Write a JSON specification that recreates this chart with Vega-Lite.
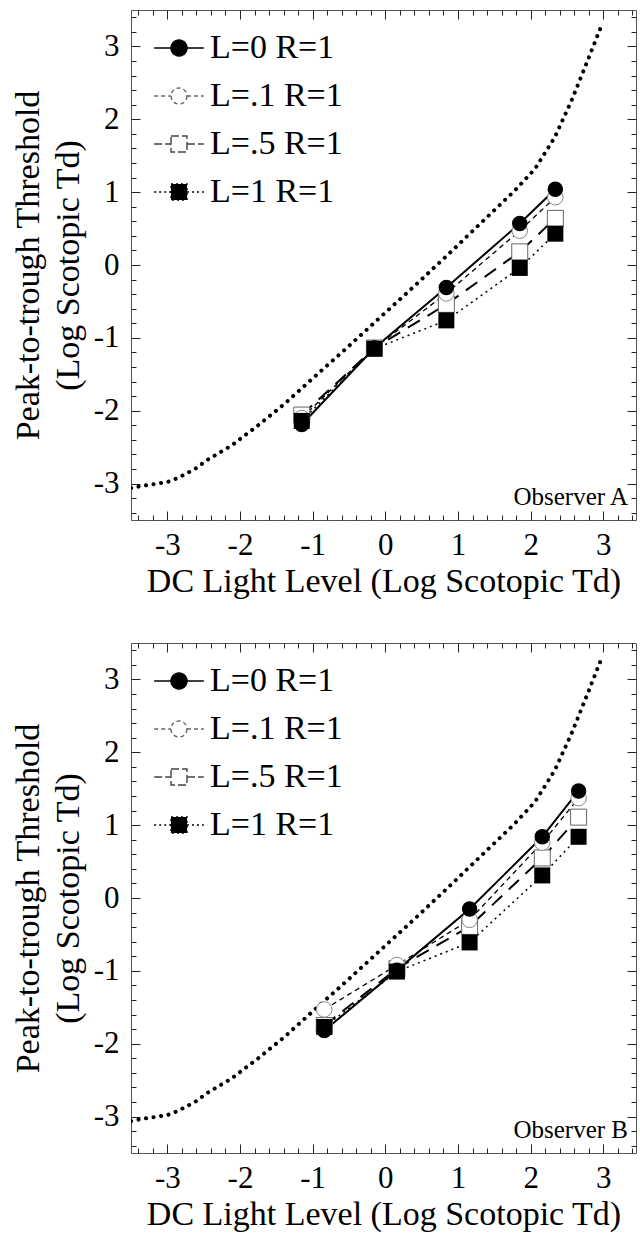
{
  "$schema": "https://vega.github.io/schema/vega-lite/v6.json",
  "background": "white",
  "padding": {"left": 10, "top": 0, "right": 3, "bottom": 0},
  "spacing": 34,
  "config": {"view": {"stroke": "#555", "strokeWidth": 1}, "font": "Liberation Serif"},
  "datasets": {
    "curve": [
      {"x": -3.5, "y": -3.06}, {"x": -3.27, "y": -3.02}, {"x": -3.0, "y": -2.98}, {"x": -2.85, "y": -2.92},
      {"x": -2.62, "y": -2.8}, {"x": -2.44, "y": -2.67}, {"x": -2.12, "y": -2.48}, {"x": -1.75, "y": -2.2},
      {"x": -1.38, "y": -1.9}, {"x": -0.97, "y": -1.53}, {"x": -0.51, "y": -1.12}, {"x": -0.05, "y": -0.7},
      {"x": 0.41, "y": -0.28}, {"x": 0.87, "y": 0.15}, {"x": 1.32, "y": 0.58}, {"x": 1.78, "y": 1.02},
      {"x": 2.06, "y": 1.32}, {"x": 2.33, "y": 1.75}, {"x": 2.56, "y": 2.25}, {"x": 2.79, "y": 2.82}, {"x": 2.98, "y": 3.3}
    ],
    "topPts": [
      {"s": "L=0 R=1", "x": -1.15, "y": -2.19}, {"s": "L=0 R=1", "x": -0.15, "y": -1.14}, {"s": "L=0 R=1", "x": 0.84, "y": -0.31}, {"s": "L=0 R=1", "x": 1.85, "y": 0.57}, {"s": "L=0 R=1", "x": 2.34, "y": 1.04},
      {"s": "L=.1 R=1", "x": -1.15, "y": -2.1}, {"s": "L=.1 R=1", "x": -0.15, "y": -1.14}, {"s": "L=.1 R=1", "x": 0.84, "y": -0.39}, {"s": "L=.1 R=1", "x": 1.85, "y": 0.47}, {"s": "L=.1 R=1", "x": 2.34, "y": 0.93},
      {"s": "L=.5 R=1", "x": -1.15, "y": -2.06}, {"s": "L=.5 R=1", "x": -0.15, "y": -1.14}, {"s": "L=.5 R=1", "x": 0.84, "y": -0.54}, {"s": "L=.5 R=1", "x": 1.85, "y": 0.18}, {"s": "L=.5 R=1", "x": 2.34, "y": 0.64},
      {"s": "L=1 R=1", "x": -1.15, "y": -2.14}, {"s": "L=1 R=1", "x": -0.15, "y": -1.15}, {"s": "L=1 R=1", "x": 0.84, "y": -0.76}, {"s": "L=1 R=1", "x": 1.85, "y": -0.04}, {"s": "L=1 R=1", "x": 2.34, "y": 0.43}
    ],
    "botPts": [
      {"s": "L=0 R=1", "x": -0.84, "y": -1.82}, {"s": "L=0 R=1", "x": 0.16, "y": -0.99}, {"s": "L=0 R=1", "x": 1.16, "y": -0.15}, {"s": "L=0 R=1", "x": 2.16, "y": 0.84}, {"s": "L=0 R=1", "x": 2.66, "y": 1.47},
      {"s": "L=.1 R=1", "x": -0.84, "y": -1.53}, {"s": "L=.1 R=1", "x": 0.16, "y": -0.92}, {"s": "L=.1 R=1", "x": 1.16, "y": -0.3}, {"s": "L=.1 R=1", "x": 2.16, "y": 0.76}, {"s": "L=.1 R=1", "x": 2.66, "y": 1.37},
      {"s": "L=.5 R=1", "x": -0.84, "y": -1.75}, {"s": "L=.5 R=1", "x": 0.16, "y": -0.97}, {"s": "L=.5 R=1", "x": 1.16, "y": -0.39}, {"s": "L=.5 R=1", "x": 2.16, "y": 0.55}, {"s": "L=.5 R=1", "x": 2.66, "y": 1.11},
      {"s": "L=1 R=1", "x": -0.84, "y": -1.77}, {"s": "L=1 R=1", "x": 0.16, "y": -1.01}, {"s": "L=1 R=1", "x": 1.16, "y": -0.61}, {"s": "L=1 R=1", "x": 2.16, "y": 0.31}, {"s": "L=1 R=1", "x": 2.66, "y": 0.84}
    ],
    "topNote": [{"x": 3.34, "y": -3.29, "label": "Observer A"}],
    "botNote": [{"x": 3.34, "y": -3.29, "label": "Observer B"}]
  },
  "resolve": {
    "scale": {"shape": "independent", "fill": "independent", "stroke": "independent", "strokeDash": "independent"},
    "legend": {"shape": "independent", "fill": "independent", "stroke": "independent", "strokeDash": "independent"}
  },
  "vconcat": [
    {
      "width": 505, "height": 510,
      "resolve": {"axis": {"x": "independent", "y": "independent"}},
      "layer": [
        {
          "data": {"name": "curve"},
          "mark": {"type": "line", "stroke": "black", "strokeWidth": 4, "strokeCap": "round", "strokeDash": [0.1, 7.5], "clip": true},
          "encoding": {
            "x": {"field": "x", "type": "quantitative", "scale": {"domain": [-3.5, 3.45], "nice": false, "zero": false},
              "axis": {"orient": "bottom", "values": [-3.4,-3.2,-3,-2.8,-2.6,-2.4,-2.2,-2,-1.8,-1.6,-1.4,-1.2,-1,-0.8,-0.6,-0.4,-0.2,0,0.2,0.4,0.6,0.8,1,1.2,1.4,1.6,1.8,2,2.2,2.4,2.6,2.8,3,3.2,3.4],
                "labelExpr": "abs(datum.value - round(datum.value)) < 0.001 ? '' + round(datum.value) : ''",
                "tickSize": {"condition": {"test": "abs(datum.value - round(datum.value)) < 0.001", "value": -9}, "value": -5},
                "tickColor": "#222", "tickWidth": 1, "labelPadding": 19, "labelFont": "Liberation Serif", "labelFontSize": 31, "labelColor": "black",
                "labelOverlap": false, "labelBound": false, "labelFlush": false, "domain": false, "grid": false,
                "title": "DC Light Level (Log Scotopic Td)", "titleFont": "Liberation Serif", "titleFontSize": 34, "titleFontWeight": "normal", "titleColor": "black", "titlePadding": 0}},
            "y": {"field": "y", "type": "quantitative", "scale": {"domain": [-3.5, 3.5], "nice": false, "zero": false},
              "axis": {"orient": "left", "values": [-3.4,-3.2,-3,-2.8,-2.6,-2.4,-2.2,-2,-1.8,-1.6,-1.4,-1.2,-1,-0.8,-0.6,-0.4,-0.2,0,0.2,0.4,0.6,0.8,1,1.2,1.4,1.6,1.8,2,2.2,2.4,2.6,2.8,3,3.2,3.4],
                "labelExpr": "abs(datum.value - round(datum.value)) < 0.001 ? '' + round(datum.value) : ''",
                "tickSize": {"condition": {"test": "abs(datum.value - round(datum.value)) < 0.001", "value": -9}, "value": -5},
                "tickColor": "#222", "tickWidth": 1, "labelPadding": 21, "labelFont": "Liberation Serif", "labelFontSize": 31, "labelColor": "black",
                "labelOverlap": false, "labelBound": false, "labelFlush": false, "domain": false, "grid": false,
                "title": ["Peak-to-trough Threshold", "(Log Scotopic Td)"], "titleLineHeight": 40, "titleFont": "Liberation Serif", "titleFontSize": 34, "titleFontWeight": "normal", "titleColor": "black", "titlePadding": 8}}
          }
        },
        {
          "data": {"name": "topPts"},
          "transform": [{"filter": "datum.s === 'L=0 R=1'"}],
          "mark": {"type": "line", "stroke": "black", "strokeWidth": 2},
          "encoding": {
            "x": {"field": "x", "type": "quantitative", "axis": {"orient": "top", "values": [-3.4,-3.2,-3,-2.8,-2.6,-2.4,-2.2,-2,-1.8,-1.6,-1.4,-1.2,-1,-0.8,-0.6,-0.4,-0.2,0,0.2,0.4,0.6,0.8,1,1.2,1.4,1.6,1.8,2,2.2,2.4,2.6,2.8,3,3.2,3.4], "labels": false, "tickSize": {"condition": {"test": "abs(datum.value - round(datum.value)) < 0.001", "value": -9}, "value": -5}, "tickColor": "#222", "domain": false, "grid": false, "title": null}},
            "y": {"field": "y", "type": "quantitative", "axis": {"orient": "right", "values": [-3.4,-3.2,-3,-2.8,-2.6,-2.4,-2.2,-2,-1.8,-1.6,-1.4,-1.2,-1,-0.8,-0.6,-0.4,-0.2,0,0.2,0.4,0.6,0.8,1,1.2,1.4,1.6,1.8,2,2.2,2.4,2.6,2.8,3,3.2,3.4], "labels": false, "tickSize": {"condition": {"test": "abs(datum.value - round(datum.value)) < 0.001", "value": -9}, "value": -5}, "tickColor": "#222", "domain": false, "grid": false, "title": null}}
          }
        },
        {
          "data": {"name": "topPts"},
          "transform": [{"filter": "datum.s === 'L=.1 R=1'"}],
          "mark": {"type": "line", "stroke": "black", "strokeWidth": 1.3, "strokeDash": [5, 4]},
          "encoding": {"x": {"field": "x", "type": "quantitative", "axis": null}, "y": {"field": "y", "type": "quantitative", "axis": null}}
        },
        {
          "data": {"name": "topPts"},
          "transform": [{"filter": "datum.s === 'L=.5 R=1'"}],
          "mark": {"type": "line", "stroke": "black", "strokeWidth": 2, "strokeDash": [14, 9]},
          "encoding": {"x": {"field": "x", "type": "quantitative", "axis": null}, "y": {"field": "y", "type": "quantitative", "axis": null}}
        },
        {
          "data": {"name": "topPts"},
          "transform": [{"filter": "datum.s === 'L=1 R=1'"}],
          "mark": {"type": "line", "stroke": "black", "strokeWidth": 1.5, "strokeDash": [2, 4]},
          "encoding": {"x": {"field": "x", "type": "quantitative", "axis": null}, "y": {"field": "y", "type": "quantitative", "axis": null}}
        },
        {
          "data": {"name": "topPts"},
          "transform": [{"filter": "datum.s === 'L=.5 R=1'"}],
          "mark": {"type": "point", "shape": "square", "size": 256, "filled": true, "fill": "white", "fillOpacity": 1, "stroke": "#666", "strokeWidth": 1, "opacity": 1},
          "encoding": {"x": {"field": "x", "type": "quantitative", "axis": null}, "y": {"field": "y", "type": "quantitative", "axis": null}}
        },
        {
          "data": {"name": "topPts"},
          "transform": [{"filter": "datum.s === 'L=.1 R=1'"}],
          "mark": {"type": "point", "shape": "circle", "size": 240, "filled": true, "fill": "white", "fillOpacity": 1, "stroke": "#888", "strokeWidth": 1, "opacity": 1},
          "encoding": {"x": {"field": "x", "type": "quantitative", "axis": null}, "y": {"field": "y", "type": "quantitative", "axis": null}}
        },
        {
          "data": {"name": "topPts"},
          "transform": [{"filter": "datum.s === 'L=1 R=1'"}],
          "mark": {"type": "point", "shape": "square", "size": 256, "filled": true, "fill": "black", "fillOpacity": 1, "opacity": 1},
          "encoding": {"x": {"field": "x", "type": "quantitative", "axis": null}, "y": {"field": "y", "type": "quantitative", "axis": null}}
        },
        {
          "data": {"name": "topPts"},
          "transform": [{"filter": "datum.s === 'L=0 R=1'"}],
          "mark": {"type": "point", "shape": "circle", "size": 240, "filled": true, "fill": "black", "fillOpacity": 1, "opacity": 1},
          "encoding": {"x": {"field": "x", "type": "quantitative", "axis": null}, "y": {"field": "y", "type": "quantitative", "axis": null}}
        },
        {
          "data": {"name": "topPts"},
          "mark": {"type": "point", "opacity": 0},
          "encoding": {
            "x": {"field": "x", "type": "quantitative", "axis": null},
            "y": {"field": "y", "type": "quantitative", "axis": null},
            "shape": {"field": "s", "type": "nominal",
              "scale": {"domain": ["L=0 R=1", "L=.1 R=1", "L=.5 R=1", "L=1 R=1"], "range": ["M-3.1,0L-1,0M1,0L3.1,0M1,0A1,1,0,1,1,-1,0A1,1,0,1,1,1,0Z", "M-3.1,0L-1,0M1,0L3.1,0M1,0A1,1,0,1,1,-1,0A1,1,0,1,1,1,0Z", "M-3.1,0L-1,0M1,0L3.1,0M-1,-1L1,-1L1,1L-1,1Z", "M-3.1,0L-1,0M1,0L3.1,0M-1,-1L1,-1L1,1L-1,1Z"]},
              "legend": {"title": null, "orient": "none", "legendX": 31, "legendY": 21, "padding": 0, "labelFont": "Liberation Serif", "labelFontSize": 34, "labelColor": "black", "symbolSize": 256, "symbolStrokeWidth": 1.4, "symbolOpacity": 1, "labelOffset": 14, "rowPadding": 14, "labelLimit": 400}},
            "fill": {"field": "s", "type": "nominal",
              "scale": {"domain": ["L=0 R=1", "L=.1 R=1", "L=.5 R=1", "L=1 R=1"], "range": ["black", "white", "white", "black"]},
              "legend": {"title": null, "orient": "none", "legendX": 31, "legendY": 21, "padding": 0, "labelFont": "Liberation Serif", "labelFontSize": 34, "labelColor": "black", "symbolSize": 256, "symbolStrokeWidth": 1.4, "symbolOpacity": 1, "labelOffset": 14, "rowPadding": 14, "labelLimit": 400}},
            "stroke": {"field": "s", "type": "nominal",
              "scale": {"domain": ["L=0 R=1", "L=.1 R=1", "L=.5 R=1", "L=1 R=1"], "range": ["black", "#666", "#444", "black"]},
              "legend": {"title": null, "orient": "none", "legendX": 31, "legendY": 21, "padding": 0, "labelFont": "Liberation Serif", "labelFontSize": 34, "labelColor": "black", "symbolSize": 256, "symbolStrokeWidth": 1.4, "symbolOpacity": 1, "labelOffset": 14, "rowPadding": 14, "labelLimit": 400}},
            "strokeDash": {"field": "s", "type": "nominal",
              "scale": {"domain": ["L=0 R=1", "L=.1 R=1", "L=.5 R=1", "L=1 R=1"], "range": [[1, 0], [4, 3], [8, 3], [2, 3]]},
              "legend": {"title": null, "orient": "none", "legendX": 31, "legendY": 21, "padding": 0, "labelFont": "Liberation Serif", "labelFontSize": 34, "labelColor": "black", "symbolSize": 256, "symbolStrokeWidth": 1.4, "symbolOpacity": 1, "labelOffset": 14, "rowPadding": 14, "labelLimit": 400}}
          }
        },
        {
          "data": {"name": "topNote"},
          "mark": {"type": "text", "align": "right", "baseline": "alphabetic", "font": "Liberation Serif", "fontSize": 25, "color": "black"},
          "encoding": {"x": {"field": "x", "type": "quantitative", "axis": null}, "y": {"field": "y", "type": "quantitative", "axis": null}, "text": {"field": "label"}}
        }
      ]
    },
    {
      "width": 505, "height": 510,
      "resolve": {"axis": {"x": "independent", "y": "independent"}},
      "layer": [
        {
          "data": {"name": "curve"},
          "mark": {"type": "line", "stroke": "black", "strokeWidth": 4, "strokeCap": "round", "strokeDash": [0.1, 7.5], "clip": true},
          "encoding": {
            "x": {"field": "x", "type": "quantitative", "scale": {"domain": [-3.5, 3.45], "nice": false, "zero": false},
              "axis": {"orient": "bottom", "values": [-3.4,-3.2,-3,-2.8,-2.6,-2.4,-2.2,-2,-1.8,-1.6,-1.4,-1.2,-1,-0.8,-0.6,-0.4,-0.2,0,0.2,0.4,0.6,0.8,1,1.2,1.4,1.6,1.8,2,2.2,2.4,2.6,2.8,3,3.2,3.4],
                "labelExpr": "abs(datum.value - round(datum.value)) < 0.001 ? '' + round(datum.value) : ''",
                "tickSize": {"condition": {"test": "abs(datum.value - round(datum.value)) < 0.001", "value": -9}, "value": -5},
                "tickColor": "#222", "tickWidth": 1, "labelPadding": 19, "labelFont": "Liberation Serif", "labelFontSize": 31, "labelColor": "black",
                "labelOverlap": false, "labelBound": false, "labelFlush": false, "domain": false, "grid": false,
                "title": "DC Light Level (Log Scotopic Td)", "titleFont": "Liberation Serif", "titleFontSize": 34, "titleFontWeight": "normal", "titleColor": "black", "titlePadding": 0}},
            "y": {"field": "y", "type": "quantitative", "scale": {"domain": [-3.5, 3.5], "nice": false, "zero": false},
              "axis": {"orient": "left", "values": [-3.4,-3.2,-3,-2.8,-2.6,-2.4,-2.2,-2,-1.8,-1.6,-1.4,-1.2,-1,-0.8,-0.6,-0.4,-0.2,0,0.2,0.4,0.6,0.8,1,1.2,1.4,1.6,1.8,2,2.2,2.4,2.6,2.8,3,3.2,3.4],
                "labelExpr": "abs(datum.value - round(datum.value)) < 0.001 ? '' + round(datum.value) : ''",
                "tickSize": {"condition": {"test": "abs(datum.value - round(datum.value)) < 0.001", "value": -9}, "value": -5},
                "tickColor": "#222", "tickWidth": 1, "labelPadding": 21, "labelFont": "Liberation Serif", "labelFontSize": 31, "labelColor": "black",
                "labelOverlap": false, "labelBound": false, "labelFlush": false, "domain": false, "grid": false,
                "title": ["Peak-to-trough Threshold", "(Log Scotopic Td)"], "titleLineHeight": 40, "titleFont": "Liberation Serif", "titleFontSize": 34, "titleFontWeight": "normal", "titleColor": "black", "titlePadding": 8}}
          }
        },
        {
          "data": {"name": "botPts"},
          "transform": [{"filter": "datum.s === 'L=0 R=1'"}],
          "mark": {"type": "line", "stroke": "black", "strokeWidth": 2},
          "encoding": {
            "x": {"field": "x", "type": "quantitative", "axis": {"orient": "top", "values": [-3.4,-3.2,-3,-2.8,-2.6,-2.4,-2.2,-2,-1.8,-1.6,-1.4,-1.2,-1,-0.8,-0.6,-0.4,-0.2,0,0.2,0.4,0.6,0.8,1,1.2,1.4,1.6,1.8,2,2.2,2.4,2.6,2.8,3,3.2,3.4], "labels": false, "tickSize": {"condition": {"test": "abs(datum.value - round(datum.value)) < 0.001", "value": -9}, "value": -5}, "tickColor": "#222", "domain": false, "grid": false, "title": null}},
            "y": {"field": "y", "type": "quantitative", "axis": {"orient": "right", "values": [-3.4,-3.2,-3,-2.8,-2.6,-2.4,-2.2,-2,-1.8,-1.6,-1.4,-1.2,-1,-0.8,-0.6,-0.4,-0.2,0,0.2,0.4,0.6,0.8,1,1.2,1.4,1.6,1.8,2,2.2,2.4,2.6,2.8,3,3.2,3.4], "labels": false, "tickSize": {"condition": {"test": "abs(datum.value - round(datum.value)) < 0.001", "value": -9}, "value": -5}, "tickColor": "#222", "domain": false, "grid": false, "title": null}}
          }
        },
        {
          "data": {"name": "botPts"},
          "transform": [{"filter": "datum.s === 'L=.1 R=1'"}],
          "mark": {"type": "line", "stroke": "black", "strokeWidth": 1.3, "strokeDash": [5, 4]},
          "encoding": {"x": {"field": "x", "type": "quantitative", "axis": null}, "y": {"field": "y", "type": "quantitative", "axis": null}}
        },
        {
          "data": {"name": "botPts"},
          "transform": [{"filter": "datum.s === 'L=.5 R=1'"}],
          "mark": {"type": "line", "stroke": "black", "strokeWidth": 2, "strokeDash": [14, 9]},
          "encoding": {"x": {"field": "x", "type": "quantitative", "axis": null}, "y": {"field": "y", "type": "quantitative", "axis": null}}
        },
        {
          "data": {"name": "botPts"},
          "transform": [{"filter": "datum.s === 'L=1 R=1'"}],
          "mark": {"type": "line", "stroke": "black", "strokeWidth": 1.5, "strokeDash": [2, 4]},
          "encoding": {"x": {"field": "x", "type": "quantitative", "axis": null}, "y": {"field": "y", "type": "quantitative", "axis": null}}
        },
        {
          "data": {"name": "botPts"},
          "transform": [{"filter": "datum.s === 'L=.5 R=1'"}],
          "mark": {"type": "point", "shape": "square", "size": 256, "filled": true, "fill": "white", "fillOpacity": 1, "stroke": "#666", "strokeWidth": 1, "opacity": 1},
          "encoding": {"x": {"field": "x", "type": "quantitative", "axis": null}, "y": {"field": "y", "type": "quantitative", "axis": null}}
        },
        {
          "data": {"name": "botPts"},
          "transform": [{"filter": "datum.s === 'L=.1 R=1'"}],
          "mark": {"type": "point", "shape": "circle", "size": 240, "filled": true, "fill": "white", "fillOpacity": 1, "stroke": "#888", "strokeWidth": 1, "opacity": 1},
          "encoding": {"x": {"field": "x", "type": "quantitative", "axis": null}, "y": {"field": "y", "type": "quantitative", "axis": null}}
        },
        {
          "data": {"name": "botPts"},
          "transform": [{"filter": "datum.s === 'L=1 R=1'"}],
          "mark": {"type": "point", "shape": "square", "size": 256, "filled": true, "fill": "black", "fillOpacity": 1, "opacity": 1},
          "encoding": {"x": {"field": "x", "type": "quantitative", "axis": null}, "y": {"field": "y", "type": "quantitative", "axis": null}}
        },
        {
          "data": {"name": "botPts"},
          "transform": [{"filter": "datum.s === 'L=0 R=1'"}],
          "mark": {"type": "point", "shape": "circle", "size": 240, "filled": true, "fill": "black", "fillOpacity": 1, "opacity": 1},
          "encoding": {"x": {"field": "x", "type": "quantitative", "axis": null}, "y": {"field": "y", "type": "quantitative", "axis": null}}
        },
        {
          "data": {"name": "botPts"},
          "mark": {"type": "point", "opacity": 0},
          "encoding": {
            "x": {"field": "x", "type": "quantitative", "axis": null},
            "y": {"field": "y", "type": "quantitative", "axis": null},
            "shape": {"field": "s", "type": "nominal",
              "scale": {"domain": ["L=0 R=1", "L=.1 R=1", "L=.5 R=1", "L=1 R=1"], "range": ["M-3.1,0L-1,0M1,0L3.1,0M1,0A1,1,0,1,1,-1,0A1,1,0,1,1,1,0Z", "M-3.1,0L-1,0M1,0L3.1,0M1,0A1,1,0,1,1,-1,0A1,1,0,1,1,1,0Z", "M-3.1,0L-1,0M1,0L3.1,0M-1,-1L1,-1L1,1L-1,1Z", "M-3.1,0L-1,0M1,0L3.1,0M-1,-1L1,-1L1,1L-1,1Z"]},
              "legend": {"title": null, "orient": "none", "legendX": 31, "legendY": 21, "padding": 0, "labelFont": "Liberation Serif", "labelFontSize": 34, "labelColor": "black", "symbolSize": 256, "symbolStrokeWidth": 1.4, "symbolOpacity": 1, "labelOffset": 14, "rowPadding": 14, "labelLimit": 400}},
            "fill": {"field": "s", "type": "nominal",
              "scale": {"domain": ["L=0 R=1", "L=.1 R=1", "L=.5 R=1", "L=1 R=1"], "range": ["black", "white", "white", "black"]},
              "legend": {"title": null, "orient": "none", "legendX": 31, "legendY": 21, "padding": 0, "labelFont": "Liberation Serif", "labelFontSize": 34, "labelColor": "black", "symbolSize": 256, "symbolStrokeWidth": 1.4, "symbolOpacity": 1, "labelOffset": 14, "rowPadding": 14, "labelLimit": 400}},
            "stroke": {"field": "s", "type": "nominal",
              "scale": {"domain": ["L=0 R=1", "L=.1 R=1", "L=.5 R=1", "L=1 R=1"], "range": ["black", "#666", "#444", "black"]},
              "legend": {"title": null, "orient": "none", "legendX": 31, "legendY": 21, "padding": 0, "labelFont": "Liberation Serif", "labelFontSize": 34, "labelColor": "black", "symbolSize": 256, "symbolStrokeWidth": 1.4, "symbolOpacity": 1, "labelOffset": 14, "rowPadding": 14, "labelLimit": 400}},
            "strokeDash": {"field": "s", "type": "nominal",
              "scale": {"domain": ["L=0 R=1", "L=.1 R=1", "L=.5 R=1", "L=1 R=1"], "range": [[1, 0], [4, 3], [8, 3], [2, 3]]},
              "legend": {"title": null, "orient": "none", "legendX": 31, "legendY": 21, "padding": 0, "labelFont": "Liberation Serif", "labelFontSize": 34, "labelColor": "black", "symbolSize": 256, "symbolStrokeWidth": 1.4, "symbolOpacity": 1, "labelOffset": 14, "rowPadding": 14, "labelLimit": 400}}
          }
        },
        {
          "data": {"name": "botNote"},
          "mark": {"type": "text", "align": "right", "baseline": "alphabetic", "font": "Liberation Serif", "fontSize": 25, "color": "black"},
          "encoding": {"x": {"field": "x", "type": "quantitative", "axis": null}, "y": {"field": "y", "type": "quantitative", "axis": null}, "text": {"field": "label"}}
        }
      ]
    }
  ]
}
